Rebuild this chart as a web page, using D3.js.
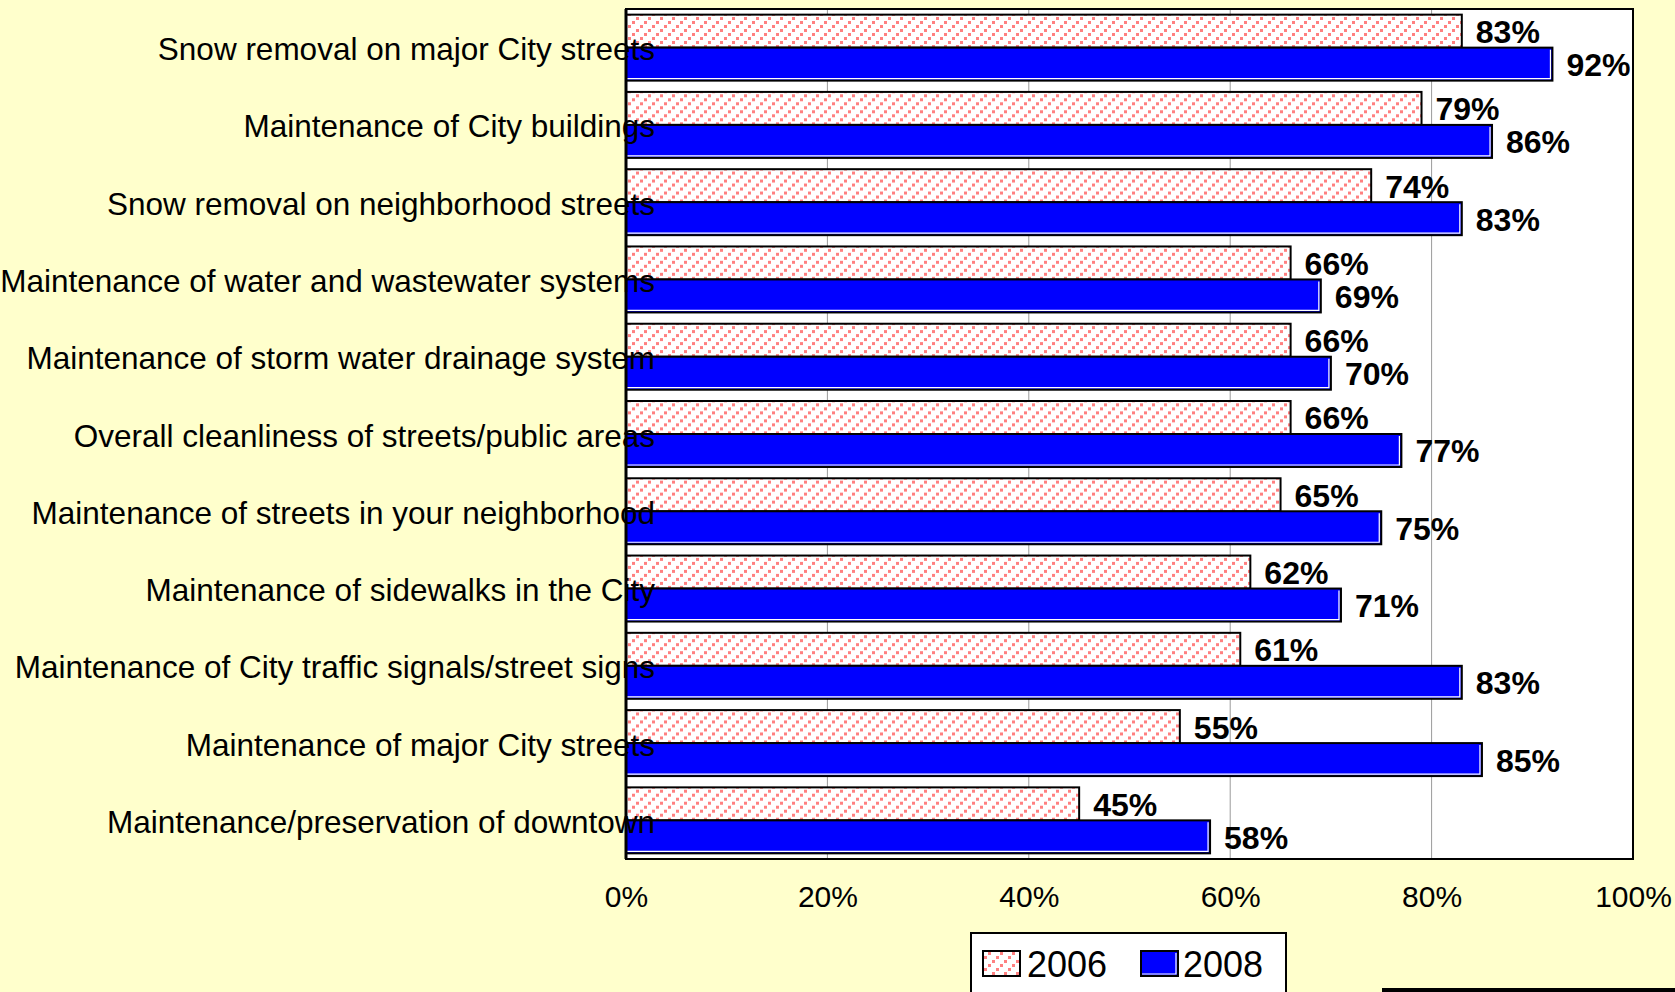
<!DOCTYPE html>
<html>
<head>
<meta charset="utf-8">
<script src="https://cdn.jsdelivr.net/npm/d3@7"></script>
<style>
  html, body { margin: 0; padding: 0; background: #FFFFCC; }
  svg { display: block; font-family: "Liberation Sans", Arial, sans-serif; }
</style>
</head>
<body>
<svg id="chart" width="1675" height="992"></svg>
<script>
// Satisfaction ratings for city maintenance services, 2006 vs 2008
const categories = [
  "Snow removal on major City streets",
  "Maintenance of City buildings",
  "Snow removal on neighborhood streets",
  "Maintenance of water and wastewater systems",
  "Maintenance of storm water drainage system",
  "Overall cleanliness of streets/public areas",
  "Maintenance of streets in your neighborhood",
  "Maintenance of sidewalks in the City",
  "Maintenance of City traffic signals/street signs",
  "Maintenance of major City streets",
  "Maintenance/preservation of downtown"
];
const values2006 = [83, 79, 74, 66, 66, 66, 65, 62, 61, 55, 45];
const values2008 = [92, 86, 83, 69, 70, 77, 75, 71, 83, 85, 58];
const seriesNames = ["2006", "2008"];
const tickValues = [0, 20, 40, 60, 80, 100];

const svg = d3.select("#chart");
const plot = { left: 626, right: 1633, top: 9, bottom: 859 };

// Diagonal dashed hatch used for the 2006 bars
const defs = svg.append("defs");
const pat = defs.append("pattern")
  .attr("id", "hatch")
  .attr("patternUnits", "userSpaceOnUse")
  .attr("width", 12).attr("height", 12);
pat.append("rect").attr("width", 12).attr("height", 12).attr("fill", "#ffffff");
[[0, 8], [4, 4], [8, 0]].forEach(([px, py]) => {
  pat.append("rect").attr("x", px).attr("y", py).attr("width", 3).attr("height", 3).attr("fill", "#FF8080");
});

const x = d3.scaleLinear().domain([0, 100]).range([plot.left, plot.right]);
const y0 = d3.scaleBand().domain(categories).range([plot.top, plot.bottom]).padding(0);
const y1 = d3.scaleBand().domain(seriesNames).range([0, y0.bandwidth()]).paddingInner(0).paddingOuter(0.171);

// Plot background
svg.append("rect")
  .attr("x", plot.left).attr("y", plot.top)
  .attr("width", plot.right - plot.left).attr("height", plot.bottom - plot.top)
  .attr("fill", "#ffffff");

// Vertical gridlines
svg.append("g").selectAll("line")
  .data(tickValues.filter(t => t > 0 && t < 100))
  .join("line")
  .attr("x1", d => x(d)).attr("x2", d => x(d))
  .attr("y1", plot.top).attr("y2", plot.bottom)
  .attr("stroke", "#9a9a9a").attr("stroke-width", 1);

const fills = { "2006": "url(#hatch)", "2008": "#0000FF" };
const rows = categories.map((c, i) => ({ cat: c, vals: [
  { s: "2006", v: values2006[i] },
  { s: "2008", v: values2008[i] }
]}));

const groups = svg.append("g").selectAll("g")
  .data(rows).join("g")
  .attr("transform", d => `translate(0,${y0(d.cat)})`);

groups.selectAll("rect.bar")
  .data(d => d.vals).join("rect")
  .attr("class", "bar")
  .attr("x", x(0))
  .attr("y", d => y1(d.s))
  .attr("width", d => x(d.v) - x(0))
  .attr("height", y1.bandwidth())
  .attr("fill", d => fills[d.s])
  .attr("stroke", "#000").attr("stroke-width", 2);

// Thin white highlight inside the solid bars (bottom and right edges)
groups.selectAll("path.hl")
  .data(d => d.vals.filter(v => v.s === "2008")).join("path")
  .attr("class", "hl")
  .attr("d", d => {
    const yt = y1(d.s) + 2, yb = y1(d.s) + y1.bandwidth() - 2, xr = x(d.v) - 2;
    return `M${x(0) + 1},${yb}H${xr}V${yt}`;
  })
  .attr("fill", "none").attr("stroke", "#ffffff").attr("stroke-width", 1.2);

groups.selectAll("text.val")
  .data(d => d.vals).join("text")
  .attr("class", "val")
  .attr("x", d => x(d.v) + 14)
  .attr("y", d => y1(d.s) + y1.bandwidth() / 2 + 12)
  .attr("font-size", 32).attr("font-weight", "bold").attr("fill", "#000")
  .text(d => d.v + "%");

// Category labels
svg.append("g").selectAll("text")
  .data(categories).join("text")
  .attr("x", 655)
  .attr("y", d => y0(d) + y0.bandwidth() / 2 + 12.5)
  .attr("text-anchor", "end")
  .attr("font-size", 31.5).attr("fill", "#000")
  .text(d => d);

// Plot frame
svg.append("rect")
  .attr("x", plot.left).attr("y", plot.top)
  .attr("width", plot.right - plot.left).attr("height", plot.bottom - plot.top)
  .attr("fill", "none").attr("stroke", "#000").attr("stroke-width", 2);
svg.append("line")
  .attr("x1", plot.left).attr("x2", plot.left)
  .attr("y1", plot.top).attr("y2", plot.bottom)
  .attr("stroke", "#000").attr("stroke-width", 3);

// X axis tick labels
const xAxis = d3.axisBottom(x).tickValues(tickValues).tickFormat(d => d + "%").tickSize(0).tickPadding(0);
const axG = svg.append("g").attr("transform", `translate(0,${plot.bottom})`).call(xAxis);
axG.select(".domain").remove();
axG.selectAll("text")
  .attr("dy", null).attr("y", 48)
  .attr("font-size", 30).attr("font-family", "'Liberation Sans', Arial, sans-serif").attr("fill", "#000");

// Legend
const lg = svg.append("g");
lg.append("rect").attr("x", 971).attr("y", 933).attr("width", 315).attr("height", 80)
  .attr("fill", "#fff").attr("stroke", "#000").attr("stroke-width", 2);
const legendItems = [
  { s: "2006", sx: 983, tx: 1027 },
  { s: "2008", sx: 1141, tx: 1183 }
];
legendItems.forEach(it => {
  lg.append("rect").attr("x", it.sx).attr("y", 951).attr("width", 37).attr("height", 25)
    .attr("fill", fills[it.s]).attr("stroke", "#000").attr("stroke-width", 2);
  if (it.s === "2008") {
    lg.append("path").attr("d", `M${it.sx + 1},${974}H${it.sx + 35}V${953}`)
      .attr("fill", "none").attr("stroke", "#fff").attr("stroke-width", 1.2);
  }
  lg.append("text").attr("x", it.tx).attr("y", 977)
    .attr("font-size", 36).attr("fill", "#000").text(it.s);
});

// Dark strip at lower right edge
svg.append("rect").attr("x", 1382).attr("y", 988).attr("width", 293).attr("height", 4).attr("fill", "#000");
</script>
</body>
</html>
